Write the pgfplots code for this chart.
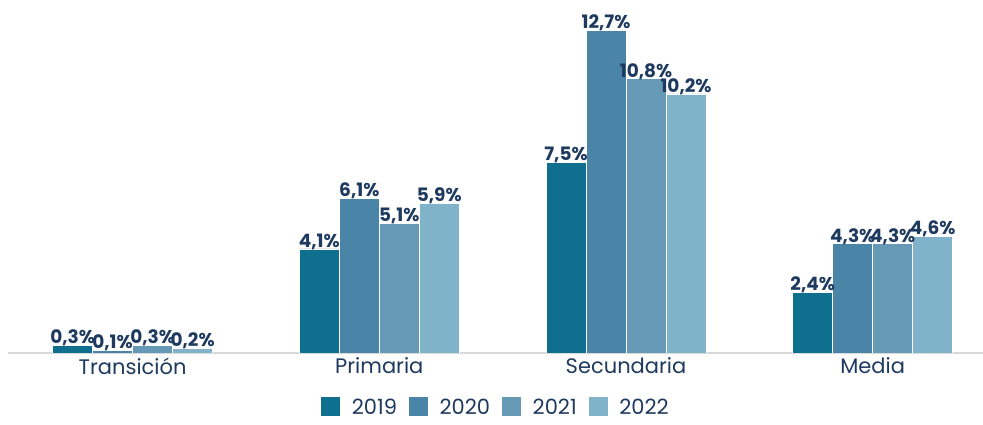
\documentclass[border=0pt]{standalone}
\usepackage{fontspec}
\setmainfont{Poppins}
\usepackage{pgfplots}
\pgfplotsset{compat=1.18}
\definecolor{cA}{HTML}{0E6F8E}
\definecolor{cB}{HTML}{4A85A8}
\definecolor{cC}{HTML}{6699B5}
\definecolor{cD}{HTML}{80B2C9}
\definecolor{txt}{HTML}{1E3A5F}
\begin{document}
\begin{tikzpicture}
\useasboundingbox (0pt,0pt) rectangle (983pt,425pt);
\begin{axis}[
  at={(8pt,72pt)}, anchor=south west,
  scale only axis, width=975pt, height=353pt,
  ybar=0pt, bar width=40pt,
  xmin=-0.505, xmax=3.447, ymin=0, ymax=13.9,
  axis y line=none, axis x line*=bottom,
  x axis line style={draw=black!15, line width=1.5pt, -},
  xtick={0,1,2,3}, xticklabels={Transición,Primaria,Secundaria,Media},
  major tick length=0pt,
  xticklabel style={font=\fontsize{21}{22}\selectfont, text=txt, yshift=-1pt},
  /pgf/number format/assume math mode=true,
  nodes near coords={\pgfmathprintnumber[fixed,precision=1,use comma,fixed zerofill,assume math mode=true]{\pgfplotspointmeta}\%},
  nodes near coords style={font=\bfseries\fontsize{18.5}{20}\selectfont, text=txt, yshift=-3pt, inner sep=2pt},
  legend style={at={(axis description cs:0.5,0)}, anchor=north, yshift=-41pt, draw=none,
    font=\fontsize{21}{22}\selectfont, text=txt, column sep=9pt},
  legend columns=4,
  legend image code/.code={\fill[#1] (0pt,-9pt) rectangle (20pt,11pt);},
]
\addplot[fill=cA, draw=white, line width=0.6pt] coordinates {(0,0.3) (1,4.1) (2,7.5) (3,2.4)};
\addplot[fill=cB, draw=white, line width=0.6pt] coordinates {(0,0.1) (1,6.1) (2,12.7) (3,4.3)};
\addplot[fill=cC, draw=white, line width=0.6pt] coordinates {(0,0.3) (1,5.1) (2,10.8) (3,4.3)};
\addplot[fill=cD, draw=white, line width=0.6pt] coordinates {(0,0.2) (1,5.9) (2,10.2) (3,4.6)};
\legend{2019,2020,2021,2022}
\end{axis}
\end{tikzpicture}
\end{document}
